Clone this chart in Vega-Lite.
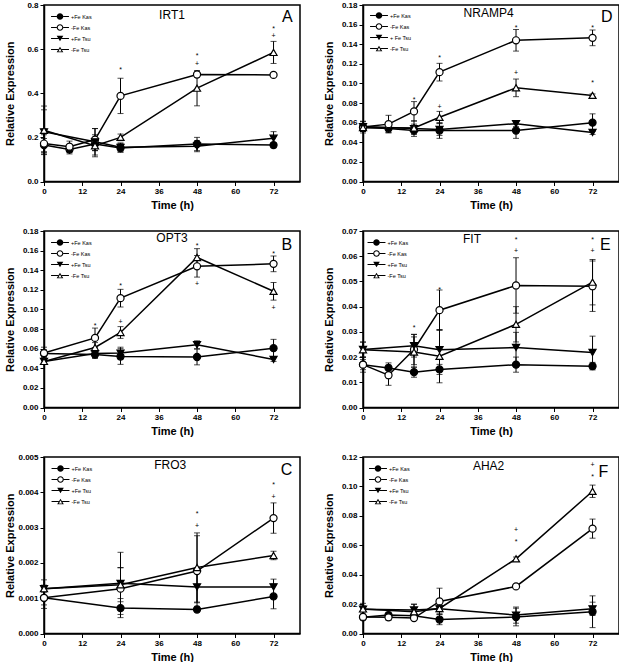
{
"$schema":"https://vega.github.io/schema/vega-lite/v6.json",
"background":"white",
"padding":{"left":3,"top":0,"right":0,"bottom":0},
"columns":2,
"spacing":{"row":14,"column":21},
"datasets":{
"lab":[{"p":"A","g":"IRT1","l":"A","gx":40.15,"gy":0.755,"lx":76.3,"ly":0.747},{"p":"D","g":"NRAMP4","l":"D","gx":39.4,"gy":0.1715,"lx":76.5,"ly":0.168},{"p":"B","g":"OPT3","l":"B","gx":40.15,"gy":0.173,"lx":76.2,"ly":0.166},{"p":"E","g":"FIT","l":"E","gx":34.2,"gy":0.067,"lx":76,"ly":0.0646},{"p":"C","g":"FRO3","l":"C","gx":39.6,"gy":0.00477,"lx":76.1,"ly":0.00462},{"p":"F","g":"AHA2","l":"F","gx":39.4,"gy":0.1139,"lx":75.4,"ly":0.11}],
"pts":[
{"p":"A","s":"+Fe Kas","t":0,"v":0.165,"e":0.03},{"p":"A","s":"+Fe Kas","t":8,"v":0.145,"e":0.02},{"p":"A","s":"+Fe Kas","t":16,"v":0.17,"e":0.03},{"p":"A","s":"+Fe Kas","t":24,"v":0.152,"e":0.02},{"p":"A","s":"+Fe Kas","t":48,"v":0.17,"e":0.03},{"p":"A","s":"+Fe Kas","t":72,"v":0.165,"e":0.012},
{"p":"A","s":"-Fe Kas","t":0,"v":0.172,"e":0.04},{"p":"A","s":"-Fe Kas","t":8,"v":0.158,"e":0.025},{"p":"A","s":"-Fe Kas","t":16,"v":0.19,"e":0.05},{"p":"A","s":"-Fe Kas","t":24,"v":0.388,"e":0.08},{"p":"A","s":"-Fe Kas","t":48,"v":0.485,"e":0.012},{"p":"A","s":"-Fe Kas","t":72,"v":0.483,"e":0.008},
{"p":"A","s":"+Fe Tsu","t":0,"v":0.225,"e":0.1},{"p":"A","s":"+Fe Tsu","t":16,"v":0.18,"e":0.06},{"p":"A","s":"+Fe Tsu","t":24,"v":0.155,"e":0.02},{"p":"A","s":"+Fe Tsu","t":48,"v":0.16,"e":0.025},{"p":"A","s":"+Fe Tsu","t":72,"v":0.196,"e":0.03},
{"p":"A","s":"-Fe Tsu","t":0,"v":0.232,"e":0.11},{"p":"A","s":"-Fe Tsu","t":16,"v":0.162,"e":0.05},{"p":"A","s":"-Fe Tsu","t":24,"v":0.2,"e":0.015},{"p":"A","s":"-Fe Tsu","t":48,"v":0.423,"e":0.08},{"p":"A","s":"-Fe Tsu","t":72,"v":0.585,"e":0.05},
{"p":"D","s":"+Fe Kas","t":0,"v":0.055,"e":0.004},{"p":"D","s":"+Fe Kas","t":8,"v":0.054,"e":0.004},{"p":"D","s":"+Fe Kas","t":16,"v":0.052,"e":0.004},{"p":"D","s":"+Fe Kas","t":24,"v":0.052,"e":0.008},{"p":"D","s":"+Fe Kas","t":48,"v":0.052,"e":0.008},{"p":"D","s":"+Fe Kas","t":72,"v":0.06,"e":0.009},
{"p":"D","s":"-Fe Kas","t":0,"v":0.0555,"e":0.006},{"p":"D","s":"-Fe Kas","t":8,"v":0.0585,"e":0.009},{"p":"D","s":"-Fe Kas","t":16,"v":0.0715,"e":0.01},{"p":"D","s":"-Fe Kas","t":24,"v":0.1115,"e":0.009},{"p":"D","s":"-Fe Kas","t":48,"v":0.144,"e":0.011},{"p":"D","s":"-Fe Kas","t":72,"v":0.1465,"e":0.008},
{"p":"D","s":"+Fe Tsu","t":0,"v":0.056,"e":0.005},{"p":"D","s":"+Fe Tsu","t":16,"v":0.054,"e":0.008},{"p":"D","s":"+Fe Tsu","t":24,"v":0.053,"e":0.006},{"p":"D","s":"+Fe Tsu","t":48,"v":0.059,"e":0.003},{"p":"D","s":"+Fe Tsu","t":72,"v":0.05,"e":0.002},
{"p":"D","s":"-Fe Tsu","t":0,"v":0.055,"e":0.004},{"p":"D","s":"-Fe Tsu","t":16,"v":0.0545,"e":0.004},{"p":"D","s":"-Fe Tsu","t":24,"v":0.0655,"e":0.006},{"p":"D","s":"-Fe Tsu","t":48,"v":0.0955,"e":0.009},{"p":"D","s":"-Fe Tsu","t":72,"v":0.0878,"e":0.0015},
{"p":"B","s":"+Fe Kas","t":0,"v":0.055,"e":0.004},{"p":"B","s":"+Fe Kas","t":16,"v":0.054,"e":0.004},{"p":"B","s":"+Fe Kas","t":24,"v":0.052,"e":0.008},{"p":"B","s":"+Fe Kas","t":48,"v":0.0515,"e":0.008},{"p":"B","s":"+Fe Kas","t":72,"v":0.0605,"e":0.009},
{"p":"B","s":"-Fe Kas","t":0,"v":0.0555,"e":0.006},{"p":"B","s":"-Fe Kas","t":16,"v":0.071,"e":0.01},{"p":"B","s":"-Fe Kas","t":24,"v":0.1115,"e":0.009},{"p":"B","s":"-Fe Kas","t":48,"v":0.144,"e":0.011},{"p":"B","s":"-Fe Kas","t":72,"v":0.1465,"e":0.008},
{"p":"B","s":"+Fe Tsu","t":0,"v":0.047,"e":0.003},{"p":"B","s":"+Fe Tsu","t":16,"v":0.055,"e":0.004},{"p":"B","s":"+Fe Tsu","t":24,"v":0.0555,"e":0.006},{"p":"B","s":"+Fe Tsu","t":48,"v":0.064,"e":0.004},{"p":"B","s":"+Fe Tsu","t":72,"v":0.049,"e":0.002},
{"p":"B","s":"-Fe Tsu","t":0,"v":0.047,"e":0.002},{"p":"B","s":"-Fe Tsu","t":16,"v":0.0612,"e":0.005},{"p":"B","s":"-Fe Tsu","t":24,"v":0.0765,"e":0.006},{"p":"B","s":"-Fe Tsu","t":48,"v":0.153,"e":0.009},{"p":"B","s":"-Fe Tsu","t":72,"v":0.1185,"e":0.009},
{"p":"E","s":"+Fe Kas","t":0,"v":0.017,"e":0.002},{"p":"E","s":"+Fe Kas","t":8,"v":0.0157,"e":0.002},{"p":"E","s":"+Fe Kas","t":16,"v":0.014,"e":0.002},{"p":"E","s":"+Fe Kas","t":24,"v":0.0151,"e":0.002},{"p":"E","s":"+Fe Kas","t":48,"v":0.017,"e":0.003},{"p":"E","s":"+Fe Kas","t":72,"v":0.0164,"e":0.0015},
{"p":"E","s":"-Fe Kas","t":0,"v":0.017,"e":0.003},{"p":"E","s":"-Fe Kas","t":8,"v":0.0128,"e":0.004},{"p":"E","s":"-Fe Kas","t":16,"v":0.023,"e":0.006},{"p":"E","s":"-Fe Kas","t":24,"v":0.0386,"e":0.008},{"p":"E","s":"-Fe Kas","t":48,"v":0.0484,"e":0.011},{"p":"E","s":"-Fe Kas","t":72,"v":0.0481,"e":0.01},
{"p":"E","s":"+Fe Tsu","t":0,"v":0.023,"e":0.003},{"p":"E","s":"+Fe Tsu","t":16,"v":0.0245,"e":0.0045},{"p":"E","s":"+Fe Tsu","t":24,"v":0.0229,"e":0.008},{"p":"E","s":"+Fe Tsu","t":48,"v":0.0238,"e":0.006},{"p":"E","s":"+Fe Tsu","t":72,"v":0.0218,"e":0.0065},
{"p":"E","s":"-Fe Tsu","t":0,"v":0.0229,"e":0.003},{"p":"E","s":"-Fe Tsu","t":16,"v":0.022,"e":0.006},{"p":"E","s":"-Fe Tsu","t":24,"v":0.0203,"e":0.0105},{"p":"E","s":"-Fe Tsu","t":48,"v":0.033,"e":0.007},{"p":"E","s":"-Fe Tsu","t":72,"v":0.0497,"e":0.009},
{"p":"C","s":"+Fe Kas","t":0,"v":0.00101,"e":0.0003},{"p":"C","s":"+Fe Kas","t":24,"v":0.00072,"e":0.00027},{"p":"C","s":"+Fe Kas","t":48,"v":0.00068,"e":0.00006},{"p":"C","s":"+Fe Kas","t":72,"v":0.00105,"e":0.00035},
{"p":"C","s":"-Fe Kas","t":0,"v":0.00101,"e":0.0002},{"p":"C","s":"-Fe Kas","t":24,"v":0.00127,"e":0.0006},{"p":"C","s":"-Fe Kas","t":48,"v":0.00177,"e":0.001},{"p":"C","s":"-Fe Kas","t":72,"v":0.00327,"e":0.00043},
{"p":"C","s":"+Fe Tsu","t":0,"v":0.00127,"e":0.00025},{"p":"C","s":"+Fe Tsu","t":24,"v":0.00142,"e":0.00088},{"p":"C","s":"+Fe Tsu","t":48,"v":0.00132,"e":0.00045},{"p":"C","s":"+Fe Tsu","t":72,"v":0.00132,"e":0.00022},
{"p":"C","s":"-Fe Tsu","t":0,"v":0.00127,"e":0.0001},{"p":"C","s":"-Fe Tsu","t":24,"v":0.00138,"e":0.00048},{"p":"C","s":"-Fe Tsu","t":48,"v":0.00187,"e":0.00098},{"p":"C","s":"-Fe Tsu","t":72,"v":0.00221,"e":0.00012},
{"p":"F","s":"+Fe Kas","t":0,"v":0.011,"e":0.0015},{"p":"F","s":"+Fe Kas","t":8,"v":0.0125,"e":0.002},{"p":"F","s":"+Fe Kas","t":16,"v":0.012,"e":0.002},{"p":"F","s":"+Fe Kas","t":24,"v":0.0095,"e":0.0035},{"p":"F","s":"+Fe Kas","t":48,"v":0.0112,"e":0.006},{"p":"F","s":"+Fe Kas","t":72,"v":0.0148,"e":0.0108},
{"p":"F","s":"-Fe Kas","t":0,"v":0.0113,"e":0.002},{"p":"F","s":"-Fe Kas","t":8,"v":0.011,"e":0.002},{"p":"F","s":"-Fe Kas","t":16,"v":0.0105,"e":0.0015},{"p":"F","s":"-Fe Kas","t":24,"v":0.0218,"e":0.009},{"p":"F","s":"-Fe Kas","t":48,"v":0.032,"e":0.0012},{"p":"F","s":"-Fe Kas","t":72,"v":0.0713,"e":0.0065},
{"p":"F","s":"+Fe Tsu","t":0,"v":0.0165,"e":0.004},{"p":"F","s":"+Fe Tsu","t":16,"v":0.016,"e":0.004},{"p":"F","s":"+Fe Tsu","t":24,"v":0.0168,"e":0.003},{"p":"F","s":"+Fe Tsu","t":48,"v":0.0125,"e":0.0055},{"p":"F","s":"+Fe Tsu","t":72,"v":0.0168,"e":0.0045},
{"p":"F","s":"-Fe Tsu","t":0,"v":0.0167,"e":0.002},{"p":"F","s":"-Fe Tsu","t":16,"v":0.0148,"e":0.005},{"p":"F","s":"-Fe Tsu","t":24,"v":0.017,"e":0.002},{"p":"F","s":"-Fe Tsu","t":48,"v":0.0508,"e":0.0012},{"p":"F","s":"-Fe Tsu","t":72,"v":0.0967,"e":0.0042}
],
"ann":[
{"p":"A","t":24,"v":0.508,"m":"*"},{"p":"A","t":48,"v":0.575,"m":"*"},{"p":"A","t":48,"v":0.538,"m":"+"},{"p":"A","t":72,"v":0.695,"m":"*"},{"p":"A","t":72,"v":0.665,"m":"+"},
{"p":"D","t":16,"v":0.084,"m":"*"},{"p":"D","t":24,"v":0.127,"m":"*"},{"p":"D","t":24,"v":0.077,"m":"+"},{"p":"D","t":48,"v":0.158,"m":"*"},{"p":"D","t":48,"v":0.112,"m":"+"},{"p":"D","t":72,"v":0.158,"m":"*"},{"p":"D","t":72,"v":0.101,"m":"*"},
{"p":"B","t":16,"v":0.084,"m":"*"},{"p":"B","t":24,"v":0.1245,"m":"*"},{"p":"B","t":24,"v":0.088,"m":"+"},{"p":"B","t":48,"v":0.1655,"m":"*"},{"p":"B","t":48,"v":0.127,"m":"+"},{"p":"B","t":72,"v":0.158,"m":"*"},{"p":"B","t":72,"v":0.103,"m":"+"},
{"p":"E","t":16,"v":0.032,"m":"*"},{"p":"E","t":24,"v":0.0468,"m":"*"},{"p":"E","t":48,"v":0.067,"m":"*"},{"p":"E","t":48,"v":0.0624,"m":"+"},{"p":"E","t":72,"v":0.067,"m":"*"},{"p":"E","t":72,"v":0.0624,"m":"+"},
{"p":"C","t":48,"v":0.00342,"m":"*"},{"p":"C","t":48,"v":0.00308,"m":"+"},{"p":"C","t":72,"v":0.00423,"m":"*"},{"p":"C","t":72,"v":0.00389,"m":"+"},
{"p":"F","t":48,"v":0.0709,"m":"+"},{"p":"F","t":48,"v":0.0627,"m":"*"},{"p":"F","t":72,"v":0.115,"m":"+"},{"p":"F","t":72,"v":0.1068,"m":"*"}
]
},
"concat":[
{"width":256,"height":176.5,"resolve":{"scale":{"shape":"independent"}},
"encoding":{"x":{"field":"t","type":"quantitative","scale":{"domain":[0,80.3],"nice":false},"axis":{"title":"Time (h)","values":[0,12,24,36,48,60,72]}},"y":{"field":"v","type":"quantitative","scale":{"domain":[0,0.8],"nice":false},"axis":{"title":"Relative Expression","values":[0,0.2,0.4,0.6,0.8],"format":".1f"}}},
"layer":[
{"data":{"name":"pts"},"transform":[{"filter":"datum.p==='A'"}],"mark":{"type":"errorbar","ticks":true,"size":6,"thickness":1,"color":"black"},"encoding":{"yError":{"field":"e"}}},
{"data":{"name":"pts"},"transform":[{"filter":"datum.p==='A'"}],"mark":{"type":"line","color":"black","strokeWidth":1.5},"encoding":{"detail":{"field":"s","type":"nominal"},"order":{"field":"t","type":"quantitative"}}},
{"data":{"name":"pts"},"transform":[{"filter":"datum.p==='A'"}],"mark":{"type":"point","filled":true,"stroke":"black","strokeWidth":1.2,"size":50,"opacity":1},"encoding":{
"shape":{"field":"s","type":"nominal","scale":{"domain":["+Fe Kas","-Fe Kas","+Fe Tsu","-Fe Tsu"],"range":["circle","circle","triangle-down","triangle-up"]},"legend":null},
"fill":{"field":"s","type":"nominal","scale":{"domain":["+Fe Kas","-Fe Kas","+Fe Tsu","-Fe Tsu"],"range":["black","white","black","white"]},"legend":null}}},
{"data":{"name":"pts"},"transform":[{"filter":"datum.p==='none'"}],"mark":{"type":"point","filled":true,"color":"black","size":44},"encoding":{
"shape":{"field":"s","type":"nominal","scale":{"domain":["+Fe Kas","-Fe Kas","+Fe Tsu","-Fe Tsu"],"range":["M-2.7,-0.18L-1,-0.18L-1,0.18L-2.7,0.18ZM1,-0.18L2.7,-0.18L2.7,0.18L1,0.18ZM1,0A1,1,0,1,1,-1,0A1,1,0,1,1,1,0Z","M-2.7,-0.18L-1,-0.18L-1,0.18L-2.7,0.18ZM1,-0.18L2.7,-0.18L2.7,0.18L1,0.18ZM1,0A1,1,0,1,1,-1,0A1,1,0,1,1,1,0ZM0.67,0A0.67,0.67,0,1,0,-0.67,0A0.67,0.67,0,1,0,0.67,0Z","M-2.7,-0.18L-0.5,-0.18L-0.5,0.18L-2.7,0.18ZM0.5,-0.18L2.7,-0.18L2.7,0.18L0.5,0.18ZM0,0.866L-1,-0.866L1,-0.866Z","M-2.7,-0.18L-0.5,-0.18L-0.5,0.18L-2.7,0.18ZM0.5,-0.18L2.7,-0.18L2.7,0.18L0.5,0.18ZM0,-0.866L1,0.866L-1,0.866ZM0,-0.265L-0.48,0.566L0.48,0.566Z"]},"legend":{"title":null,"orient":"none","legendX":11.5,"legendY":7}}}},
{"data":{"name":"ann"},"transform":[{"filter":"datum.p==='A'"}],"mark":{"type":"text","fontSize":7,"color":"black","dy":1},"encoding":{"text":{"field":"m"}}},
{"data":{"name":"lab"},"transform":[{"filter":"datum.p==='A'"}],"mark":{"type":"text","fontSize":12,"color":"black","baseline":"middle"},"encoding":{"text":{"field":"g"},"x":{"field":"gx","type":"quantitative"},"y":{"field":"gy","type":"quantitative"}}},
{"data":{"name":"lab"},"transform":[{"filter":"datum.p==='A'"}],"mark":{"type":"text","fontSize":16,"color":"black","baseline":"middle"},"encoding":{"text":{"field":"l"},"x":{"field":"lx","type":"quantitative"},"y":{"field":"ly","type":"quantitative"}}}
]},
{"width":256,"height":176.5,"resolve":{"scale":{"shape":"independent"}},
"encoding":{"x":{"field":"t","type":"quantitative","scale":{"domain":[0,80.3],"nice":false},"axis":{"title":"Time (h)","values":[0,12,24,36,48,60,72]}},"y":{"field":"v","type":"quantitative","scale":{"domain":[0,0.18],"nice":false},"axis":{"title":"Relative Expression","values":[0,0.02,0.04,0.06,0.08,0.1,0.12,0.14,0.16,0.18],"format":".2f"}}},
"layer":[
{"data":{"name":"pts"},"transform":[{"filter":"datum.p==='D'"}],"mark":{"type":"errorbar","ticks":true,"size":6,"thickness":1,"color":"black"},"encoding":{"yError":{"field":"e"}}},
{"data":{"name":"pts"},"transform":[{"filter":"datum.p==='D'"}],"mark":{"type":"line","color":"black","strokeWidth":1.5},"encoding":{"detail":{"field":"s","type":"nominal"},"order":{"field":"t","type":"quantitative"}}},
{"data":{"name":"pts"},"transform":[{"filter":"datum.p==='D'"}],"mark":{"type":"point","filled":true,"stroke":"black","strokeWidth":1.2,"size":50,"opacity":1},"encoding":{
"shape":{"field":"s","type":"nominal","scale":{"domain":["+Fe Kas","-Fe Kas","+Fe Tsu","-Fe Tsu"],"range":["circle","circle","triangle-down","triangle-up"]},"legend":null},
"fill":{"field":"s","type":"nominal","scale":{"domain":["+Fe Kas","-Fe Kas","+Fe Tsu","-Fe Tsu"],"range":["black","white","black","white"]},"legend":null}}},
{"data":{"name":"pts"},"transform":[{"filter":"datum.p==='none'"}],"mark":{"type":"point","filled":true,"color":"black","size":44},"encoding":{
"shape":{"field":"s","type":"nominal","scale":{"domain":["+Fe Kas","-Fe Kas","+Fe Tsu","-Fe Tsu"],"range":["M-2.7,-0.18L-1,-0.18L-1,0.18L-2.7,0.18ZM1,-0.18L2.7,-0.18L2.7,0.18L1,0.18ZM1,0A1,1,0,1,1,-1,0A1,1,0,1,1,1,0Z","M-2.7,-0.18L-1,-0.18L-1,0.18L-2.7,0.18ZM1,-0.18L2.7,-0.18L2.7,0.18L1,0.18ZM1,0A1,1,0,1,1,-1,0A1,1,0,1,1,1,0ZM0.67,0A0.67,0.67,0,1,0,-0.67,0A0.67,0.67,0,1,0,0.67,0Z","M-2.7,-0.18L-0.5,-0.18L-0.5,0.18L-2.7,0.18ZM0.5,-0.18L2.7,-0.18L2.7,0.18L0.5,0.18ZM0,0.866L-1,-0.866L1,-0.866Z","M-2.7,-0.18L-0.5,-0.18L-0.5,0.18L-2.7,0.18ZM0.5,-0.18L2.7,-0.18L2.7,0.18L0.5,0.18ZM0,-0.866L1,0.866L-1,0.866ZM0,-0.265L-0.48,0.566L0.48,0.566Z"]},"legend":{"title":null,"orient":"none","legendX":11.5,"legendY":6,"labelExpr":"datum.label=='+Fe Tsu' ? '+ Fe Tsu' : datum.label"}}}},
{"data":{"name":"ann"},"transform":[{"filter":"datum.p==='D'"}],"mark":{"type":"text","fontSize":7,"color":"black","dy":1},"encoding":{"text":{"field":"m"}}},
{"data":{"name":"lab"},"transform":[{"filter":"datum.p==='D'"}],"mark":{"type":"text","fontSize":12,"color":"black","baseline":"middle"},"encoding":{"text":{"field":"g"},"x":{"field":"gx","type":"quantitative"},"y":{"field":"gy","type":"quantitative"}}},
{"data":{"name":"lab"},"transform":[{"filter":"datum.p==='D'"}],"mark":{"type":"text","fontSize":16,"color":"black","baseline":"middle"},"encoding":{"text":{"field":"l"},"x":{"field":"lx","type":"quantitative"},"y":{"field":"ly","type":"quantitative"}}}
]},
{"width":256,"height":176.5,"resolve":{"scale":{"shape":"independent"}},
"encoding":{"x":{"field":"t","type":"quantitative","scale":{"domain":[0,80.3],"nice":false},"axis":{"title":"Time (h)","values":[0,12,24,36,48,60,72]}},"y":{"field":"v","type":"quantitative","scale":{"domain":[0,0.18],"nice":false},"axis":{"title":"Relative Expression","values":[0,0.02,0.04,0.06,0.08,0.1,0.12,0.14,0.16,0.18],"format":".2f"}}},
"layer":[
{"data":{"name":"pts"},"transform":[{"filter":"datum.p==='B'"}],"mark":{"type":"errorbar","ticks":true,"size":6,"thickness":1,"color":"black"},"encoding":{"yError":{"field":"e"}}},
{"data":{"name":"pts"},"transform":[{"filter":"datum.p==='B'"}],"mark":{"type":"line","color":"black","strokeWidth":1.5},"encoding":{"detail":{"field":"s","type":"nominal"},"order":{"field":"t","type":"quantitative"}}},
{"data":{"name":"pts"},"transform":[{"filter":"datum.p==='B'"}],"mark":{"type":"point","filled":true,"stroke":"black","strokeWidth":1.2,"size":50,"opacity":1},"encoding":{
"shape":{"field":"s","type":"nominal","scale":{"domain":["+Fe Kas","-Fe Kas","+Fe Tsu","-Fe Tsu"],"range":["circle","circle","triangle-down","triangle-up"]},"legend":null},
"fill":{"field":"s","type":"nominal","scale":{"domain":["+Fe Kas","-Fe Kas","+Fe Tsu","-Fe Tsu"],"range":["black","white","black","white"]},"legend":null}}},
{"data":{"name":"pts"},"transform":[{"filter":"datum.p==='none'"}],"mark":{"type":"point","filled":true,"color":"black","size":44},"encoding":{
"shape":{"field":"s","type":"nominal","scale":{"domain":["+Fe Kas","-Fe Kas","+Fe Tsu","-Fe Tsu"],"range":["M-2.7,-0.18L-1,-0.18L-1,0.18L-2.7,0.18ZM1,-0.18L2.7,-0.18L2.7,0.18L1,0.18ZM1,0A1,1,0,1,1,-1,0A1,1,0,1,1,1,0Z","M-2.7,-0.18L-1,-0.18L-1,0.18L-2.7,0.18ZM1,-0.18L2.7,-0.18L2.7,0.18L1,0.18ZM1,0A1,1,0,1,1,-1,0A1,1,0,1,1,1,0ZM0.67,0A0.67,0.67,0,1,0,-0.67,0A0.67,0.67,0,1,0,0.67,0Z","M-2.7,-0.18L-0.5,-0.18L-0.5,0.18L-2.7,0.18ZM0.5,-0.18L2.7,-0.18L2.7,0.18L0.5,0.18ZM0,0.866L-1,-0.866L1,-0.866Z","M-2.7,-0.18L-0.5,-0.18L-0.5,0.18L-2.7,0.18ZM0.5,-0.18L2.7,-0.18L2.7,0.18L0.5,0.18ZM0,-0.866L1,0.866L-1,0.866ZM0,-0.265L-0.48,0.566L0.48,0.566Z"]},"legend":{"title":null,"orient":"none","legendX":11.5,"legendY":7}}}},
{"data":{"name":"ann"},"transform":[{"filter":"datum.p==='B'"}],"mark":{"type":"text","fontSize":7,"color":"black","dy":1},"encoding":{"text":{"field":"m"}}},
{"data":{"name":"lab"},"transform":[{"filter":"datum.p==='B'"}],"mark":{"type":"text","fontSize":12,"color":"black","baseline":"middle"},"encoding":{"text":{"field":"g"},"x":{"field":"gx","type":"quantitative"},"y":{"field":"gy","type":"quantitative"}}},
{"data":{"name":"lab"},"transform":[{"filter":"datum.p==='B'"}],"mark":{"type":"text","fontSize":16,"color":"black","baseline":"middle"},"encoding":{"text":{"field":"l"},"x":{"field":"lx","type":"quantitative"},"y":{"field":"ly","type":"quantitative"}}}
]},
{"width":256,"height":176.5,"resolve":{"scale":{"shape":"independent"}},
"encoding":{"x":{"field":"t","type":"quantitative","scale":{"domain":[0,80.3],"nice":false},"axis":{"title":"Time (h)","values":[0,12,24,36,48,60,72]}},"y":{"field":"v","type":"quantitative","scale":{"domain":[0,0.07],"nice":false},"axis":{"title":"Relative Expression","values":[0,0.01,0.02,0.03,0.04,0.05,0.06,0.07],"format":".2f"}}},
"layer":[
{"data":{"name":"pts"},"transform":[{"filter":"datum.p==='E'"}],"mark":{"type":"errorbar","ticks":true,"size":6,"thickness":1,"color":"black"},"encoding":{"yError":{"field":"e"}}},
{"data":{"name":"pts"},"transform":[{"filter":"datum.p==='E'"}],"mark":{"type":"line","color":"black","strokeWidth":1.5},"encoding":{"detail":{"field":"s","type":"nominal"},"order":{"field":"t","type":"quantitative"}}},
{"data":{"name":"pts"},"transform":[{"filter":"datum.p==='E'"}],"mark":{"type":"point","filled":true,"stroke":"black","strokeWidth":1.2,"size":50,"opacity":1},"encoding":{
"shape":{"field":"s","type":"nominal","scale":{"domain":["+Fe Kas","-Fe Kas","+Fe Tsu","-Fe Tsu"],"range":["circle","circle","triangle-down","triangle-up"]},"legend":null},
"fill":{"field":"s","type":"nominal","scale":{"domain":["+Fe Kas","-Fe Kas","+Fe Tsu","-Fe Tsu"],"range":["black","white","black","white"]},"legend":null}}},
{"data":{"name":"pts"},"transform":[{"filter":"datum.p==='none'"}],"mark":{"type":"point","filled":true,"color":"black","size":44},"encoding":{
"shape":{"field":"s","type":"nominal","scale":{"domain":["+Fe Kas","-Fe Kas","+Fe Tsu","-Fe Tsu"],"range":["M-2.7,-0.18L-1,-0.18L-1,0.18L-2.7,0.18ZM1,-0.18L2.7,-0.18L2.7,0.18L1,0.18ZM1,0A1,1,0,1,1,-1,0A1,1,0,1,1,1,0Z","M-2.7,-0.18L-1,-0.18L-1,0.18L-2.7,0.18ZM1,-0.18L2.7,-0.18L2.7,0.18L1,0.18ZM1,0A1,1,0,1,1,-1,0A1,1,0,1,1,1,0ZM0.67,0A0.67,0.67,0,1,0,-0.67,0A0.67,0.67,0,1,0,0.67,0Z","M-2.7,-0.18L-0.5,-0.18L-0.5,0.18L-2.7,0.18ZM0.5,-0.18L2.7,-0.18L2.7,0.18L0.5,0.18ZM0,0.866L-1,-0.866L1,-0.866Z","M-2.7,-0.18L-0.5,-0.18L-0.5,0.18L-2.7,0.18ZM0.5,-0.18L2.7,-0.18L2.7,0.18L0.5,0.18ZM0,-0.866L1,0.866L-1,0.866ZM0,-0.265L-0.48,0.566L0.48,0.566Z"]},"legend":{"title":null,"orient":"none","legendX":9,"legendY":7}}}},
{"data":{"name":"ann"},"transform":[{"filter":"datum.p==='E'"}],"mark":{"type":"text","fontSize":7,"color":"black","dy":1},"encoding":{"text":{"field":"m"}}},
{"data":{"name":"lab"},"transform":[{"filter":"datum.p==='E'"}],"mark":{"type":"text","fontSize":12,"color":"black","baseline":"middle"},"encoding":{"text":{"field":"g"},"x":{"field":"gx","type":"quantitative"},"y":{"field":"gy","type":"quantitative"}}},
{"data":{"name":"lab"},"transform":[{"filter":"datum.p==='E'"}],"mark":{"type":"text","fontSize":16,"color":"black","baseline":"middle"},"encoding":{"text":{"field":"l"},"x":{"field":"lx","type":"quantitative"},"y":{"field":"ly","type":"quantitative"}}}
]},
{"width":256,"height":176.5,"resolve":{"scale":{"shape":"independent"}},
"encoding":{"x":{"field":"t","type":"quantitative","scale":{"domain":[0,80.3],"nice":false},"axis":{"title":"Time (h)","values":[0,12,24,36,48,60,72]}},"y":{"field":"v","type":"quantitative","scale":{"domain":[0,0.005],"nice":false},"axis":{"title":"Relative Expression","values":[0,0.001,0.002,0.003,0.004,0.005],"format":".3f"}}},
"layer":[
{"data":{"name":"pts"},"transform":[{"filter":"datum.p==='C'"}],"mark":{"type":"errorbar","ticks":true,"size":6,"thickness":1,"color":"black"},"encoding":{"yError":{"field":"e"}}},
{"data":{"name":"pts"},"transform":[{"filter":"datum.p==='C'"}],"mark":{"type":"line","color":"black","strokeWidth":1.5},"encoding":{"detail":{"field":"s","type":"nominal"},"order":{"field":"t","type":"quantitative"}}},
{"data":{"name":"pts"},"transform":[{"filter":"datum.p==='C'"}],"mark":{"type":"point","filled":true,"stroke":"black","strokeWidth":1.2,"size":50,"opacity":1},"encoding":{
"shape":{"field":"s","type":"nominal","scale":{"domain":["+Fe Kas","-Fe Kas","+Fe Tsu","-Fe Tsu"],"range":["circle","circle","triangle-down","triangle-up"]},"legend":null},
"fill":{"field":"s","type":"nominal","scale":{"domain":["+Fe Kas","-Fe Kas","+Fe Tsu","-Fe Tsu"],"range":["black","white","black","white"]},"legend":null}}},
{"data":{"name":"pts"},"transform":[{"filter":"datum.p==='none'"}],"mark":{"type":"point","filled":true,"color":"black","size":44},"encoding":{
"shape":{"field":"s","type":"nominal","scale":{"domain":["+Fe Kas","-Fe Kas","+Fe Tsu","-Fe Tsu"],"range":["M-2.7,-0.18L-1,-0.18L-1,0.18L-2.7,0.18ZM1,-0.18L2.7,-0.18L2.7,0.18L1,0.18ZM1,0A1,1,0,1,1,-1,0A1,1,0,1,1,1,0Z","M-2.7,-0.18L-1,-0.18L-1,0.18L-2.7,0.18ZM1,-0.18L2.7,-0.18L2.7,0.18L1,0.18ZM1,0A1,1,0,1,1,-1,0A1,1,0,1,1,1,0ZM0.67,0A0.67,0.67,0,1,0,-0.67,0A0.67,0.67,0,1,0,0.67,0Z","M-2.7,-0.18L-0.5,-0.18L-0.5,0.18L-2.7,0.18ZM0.5,-0.18L2.7,-0.18L2.7,0.18L0.5,0.18ZM0,0.866L-1,-0.866L1,-0.866Z","M-2.7,-0.18L-0.5,-0.18L-0.5,0.18L-2.7,0.18ZM0.5,-0.18L2.7,-0.18L2.7,0.18L0.5,0.18ZM0,-0.866L1,0.866L-1,0.866ZM0,-0.265L-0.48,0.566L0.48,0.566Z"]},"legend":{"title":null,"orient":"none","legendX":12,"legendY":7,"labelExpr":"datum.label=='-Fe Tsu' ? ' -Fe Tsu' : datum.label"}}}},
{"data":{"name":"ann"},"transform":[{"filter":"datum.p==='C'"}],"mark":{"type":"text","fontSize":7,"color":"black","dy":1},"encoding":{"text":{"field":"m"}}},
{"data":{"name":"lab"},"transform":[{"filter":"datum.p==='C'"}],"mark":{"type":"text","fontSize":12,"color":"black","baseline":"middle"},"encoding":{"text":{"field":"g"},"x":{"field":"gx","type":"quantitative"},"y":{"field":"gy","type":"quantitative"}}},
{"data":{"name":"lab"},"transform":[{"filter":"datum.p==='C'"}],"mark":{"type":"text","fontSize":16,"color":"black","baseline":"middle"},"encoding":{"text":{"field":"l"},"x":{"field":"lx","type":"quantitative"},"y":{"field":"ly","type":"quantitative"}}}
]},
{"width":256,"height":176.5,"resolve":{"scale":{"shape":"independent"}},
"encoding":{"x":{"field":"t","type":"quantitative","scale":{"domain":[0,80.3],"nice":false},"axis":{"title":"Time (h)","values":[0,12,24,36,48,60,72]}},"y":{"field":"v","type":"quantitative","scale":{"domain":[0,0.12],"nice":false},"axis":{"title":"Relative Expression","values":[0,0.02,0.04,0.06,0.08,0.1,0.12],"format":".2f"}}},
"layer":[
{"data":{"name":"pts"},"transform":[{"filter":"datum.p==='F'"}],"mark":{"type":"errorbar","ticks":true,"size":6,"thickness":1,"color":"black"},"encoding":{"yError":{"field":"e"}}},
{"data":{"name":"pts"},"transform":[{"filter":"datum.p==='F'"}],"mark":{"type":"line","color":"black","strokeWidth":1.5},"encoding":{"detail":{"field":"s","type":"nominal"},"order":{"field":"t","type":"quantitative"}}},
{"data":{"name":"pts"},"transform":[{"filter":"datum.p==='F'"}],"mark":{"type":"point","filled":true,"stroke":"black","strokeWidth":1.2,"size":50,"opacity":1},"encoding":{
"shape":{"field":"s","type":"nominal","scale":{"domain":["+Fe Kas","-Fe Kas","+Fe Tsu","-Fe Tsu"],"range":["circle","circle","triangle-down","triangle-up"]},"legend":null},
"fill":{"field":"s","type":"nominal","scale":{"domain":["+Fe Kas","-Fe Kas","+Fe Tsu","-Fe Tsu"],"range":["black","white","black","white"]},"legend":null}}},
{"data":{"name":"pts"},"transform":[{"filter":"datum.p==='none'"}],"mark":{"type":"point","filled":true,"color":"black","size":44},"encoding":{
"shape":{"field":"s","type":"nominal","scale":{"domain":["+Fe Kas","-Fe Kas","+Fe Tsu","-Fe Tsu"],"range":["M-2.7,-0.18L-1,-0.18L-1,0.18L-2.7,0.18ZM1,-0.18L2.7,-0.18L2.7,0.18L1,0.18ZM1,0A1,1,0,1,1,-1,0A1,1,0,1,1,1,0Z","M-2.7,-0.18L-1,-0.18L-1,0.18L-2.7,0.18ZM1,-0.18L2.7,-0.18L2.7,0.18L1,0.18ZM1,0A1,1,0,1,1,-1,0A1,1,0,1,1,1,0ZM0.67,0A0.67,0.67,0,1,0,-0.67,0A0.67,0.67,0,1,0,0.67,0Z","M-2.7,-0.18L-0.5,-0.18L-0.5,0.18L-2.7,0.18ZM0.5,-0.18L2.7,-0.18L2.7,0.18L0.5,0.18ZM0,0.866L-1,-0.866L1,-0.866Z","M-2.7,-0.18L-0.5,-0.18L-0.5,0.18L-2.7,0.18ZM0.5,-0.18L2.7,-0.18L2.7,0.18L0.5,0.18ZM0,-0.866L1,0.866L-1,0.866ZM0,-0.265L-0.48,0.566L0.48,0.566Z"]},"legend":{"title":null,"orient":"none","legendX":10.5,"legendY":7}}}},
{"data":{"name":"ann"},"transform":[{"filter":"datum.p==='F'"}],"mark":{"type":"text","fontSize":7,"color":"black","dy":1},"encoding":{"text":{"field":"m"}}},
{"data":{"name":"lab"},"transform":[{"filter":"datum.p==='F'"}],"mark":{"type":"text","fontSize":12,"color":"black","baseline":"middle"},"encoding":{"text":{"field":"g"},"x":{"field":"gx","type":"quantitative"},"y":{"field":"gy","type":"quantitative"}}},
{"data":{"name":"lab"},"transform":[{"filter":"datum.p==='F'"}],"mark":{"type":"text","fontSize":16,"color":"black","baseline":"middle"},"encoding":{"text":{"field":"l"},"x":{"field":"lx","type":"quantitative"},"y":{"field":"ly","type":"quantitative"}}}
]}
],
"config":{
"font":"Liberation Sans",
"view":{"stroke":"black","strokeWidth":1.5},
"axis":{"grid":false,"labelFont":"Liberation Sans","labelFontSize":8,"labelFontWeight":"bold","labelColor":"black","labelPadding":2,"labelFlush":false,"labelOverlap":false,"titleFont":"Liberation Sans","titleFontSize":11,"titleFontWeight":"bold","titleColor":"black","domainColor":"black","domainWidth":1.5,"tickColor":"black","tickSize":4,"tickWidth":1},
"axisX":{"minExtent":14,"maxExtent":14,"titlePadding":4},
"axisY":{"minExtent":27,"maxExtent":27,"titlePadding":2},
"legend":{"labelFont":"Liberation Sans","labelFontSize":5.5,"labelColor":"black","symbolSize":44,"labelOffset":6.5,"rowPadding":-2,"padding":0,"symbolOpacity":1}
}
}
